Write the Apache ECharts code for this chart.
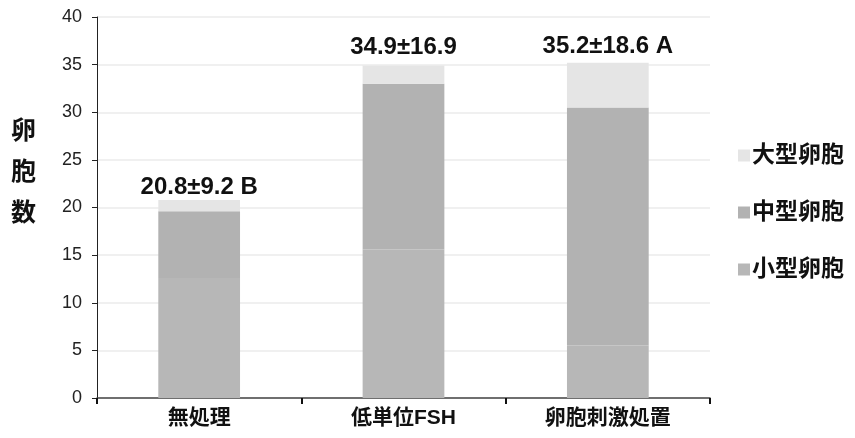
<!DOCTYPE html>
<html>
<head>
<meta charset="utf-8">
<script src="https://cdn.jsdelivr.net/npm/echarts@6/dist/echarts.min.js"></script>
<style>html,body{margin:0;padding:0;background:#fff;}#c{width:855px;height:438px;}</style>
</head>
<body>
<div id="c"></div>
<script>
const categories = ['無処理', '低単位FSH', '卵胞刺激処置'];
const smallFollicles = [12.6, 15.6, 5.5];
const mediumFollicles = [7.0, 17.4, 25.0];
const largeFollicles = [1.2, 1.9, 4.7];
const topLabels = ['20.8±9.2 B', '34.9±16.9', '35.2±18.6 A'];
const seriesNames = ['小型卵胞', '中型卵胞', '大型卵胞'];

const font = '"Liberation Sans", "Noto Sans CJK JP", sans-serif';
const labelDistances = [1, 6, 4];
const chart = echarts.init(document.getElementById('c'));
chart.setOption({
  animation: false,
  textStyle: { fontFamily: font },
  grid: { left: 97, right: 145, top: 17, bottom: 40 },
  legend: {
    orient: 'vertical',
    left: 733, top: 139,
    itemGap: 34,
    itemWidth: 12, itemHeight: 12,
    icon: 'rect',
    data: [seriesNames[2], seriesNames[1], seriesNames[0]],
    textStyle: { fontSize: 23, fontWeight: 'bold', color: '#111', fontFamily: font, padding: [0, 0, 0, -3] }
  },
  graphic: [{
    type: 'text', left: 11, top: 112,
    style: { text: '卵\n胞\n数', font: 'bold 25px ' + font, fill: '#111', lineHeight: 41 }
  }],
  xAxis: {
    type: 'category',
    data: categories,
    axisLine: { lineStyle: { color: '#444', width: 1.5 } },
    axisTick: { show: true, length: 6, lineStyle: { color: '#111', width: 2 } },
    axisLabel: { fontSize: 21, fontWeight: 'bold', color: '#111', margin: 10 }
  },
  yAxis: {
    type: 'value', min: 0, max: 40, interval: 5,
    axisLine: { show: true, lineStyle: { color: '#222', width: 1 } },
    axisTick: { show: true, length: 5, lineStyle: { color: '#222' } },
    axisLabel: { fontSize: 18, color: '#222', margin: 15 },
    splitLine: { lineStyle: { color: '#f0f0f0', width: 2 } }
  },
  series: [
    { name: seriesNames[0], type: 'bar', stack: 'a', data: smallFollicles, barWidth: '40%',
      itemStyle: { color: '#b7b7b7' } },
    { name: seriesNames[1], type: 'bar', stack: 'a', data: mediumFollicles,
      itemStyle: { color: '#b2b2b2' } },
    { name: seriesNames[2], type: 'bar', stack: 'a',
      data: largeFollicles.map((v, i) => ({ value: v, label: { distance: labelDistances[i] } })),
      itemStyle: { color: '#e5e5e5' },
      label: { show: true, position: 'top',
        formatter: p => topLabels[p.dataIndex],
        fontSize: 24, fontWeight: 'bold', color: '#111' } }
  ]
});
</script>
</body>
</html>
